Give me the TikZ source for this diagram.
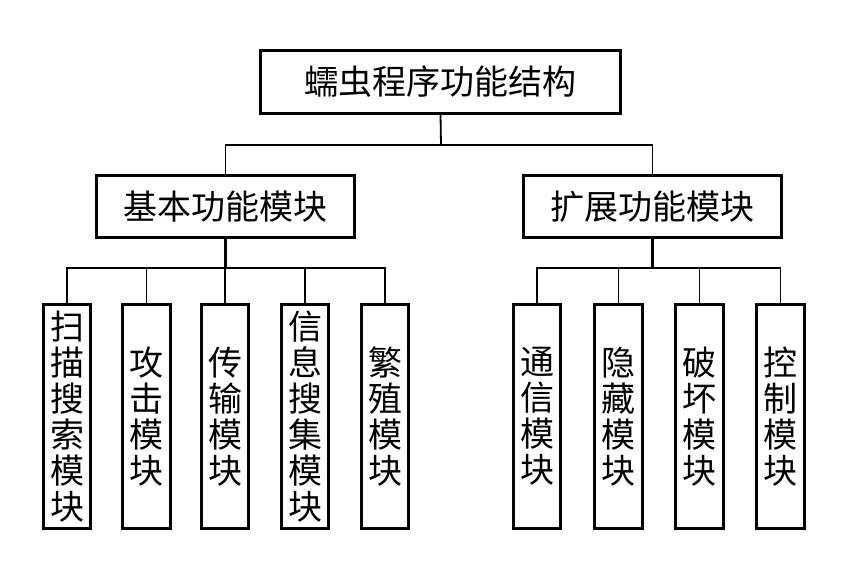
\documentclass[tikz,border=0pt]{standalone}
\usepackage{fontspec}
\newfontfamily\cjk{Noto Sans CJK SC}

\begin{document}
\begin{tikzpicture}[x=1pt,y=-1pt,
    box/.style={draw,line width=2.6pt,inner sep=0pt,font=\cjk\fontsize{34}{36}\selectfont},
    topbox/.style={box,minimum width=360pt,minimum height=63pt},
    midbox/.style={box,minimum width=258pt,minimum height=62pt},
    leafbox/.style={box,align=center,minimum width=47.5pt,minimum height=224.5pt},
    link/.style={line width=1.8pt}]
    % canvas
    \fill[white] (0,0) rectangle (848,560);

    % top and middle
    \node[topbox] (root) at (440.5,82) {蠕虫程序功能结构};
    \node[midbox] (basic) at (225.5,206.5) {基本功能模块};
    \node[midbox] (ext) at (652.5,206.5) {扩展功能模块};

    % basic modules
    \node[leafbox] (scan) at (67,416.5) {扫\\描\\搜\\索\\模\\块};
    \node[leafbox] (attack) at (146.5,416.5) {攻\\击\\模\\块};
    \node[leafbox] (trans) at (225,416.5) {传\\输\\模\\块};
    \node[leafbox] (info) at (305,416.5) {信\\息\\搜\\集\\模\\块};
    \node[leafbox] (breed) at (385,416.5) {繁\\殖\\模\\块};

    % extended modules
    \node[leafbox] (comm) at (537,416.5) {通\\信\\模\\块};
    \node[leafbox] (hide) at (618.5,416.5) {隐\\藏\\模\\块};
    \node[leafbox] (harm) at (699.5,416.5) {破\\坏\\模\\块};
    \node[leafbox] (ctrl) at (780.5,416.5) {控\\制\\模\\块};

    % connectors
    \coordinate (rj) at (441,145);
    \draw[link] (root.south) -- (rj);
    \draw[link] (basic.north) |- (rj) -| (ext.north);
    \draw[link,line width=2.6pt] (basic.south) -- ++(0,29) coordinate (bj);
    \foreach \n in {scan,attack,trans,info,breed}
        \draw[link] (bj) -| (\n.north);
    \draw[link,line width=2.6pt] (ext.south) -- ++(0,29) coordinate (ej);
    \foreach \n in {comm,hide,harm,ctrl}
        \draw[link] (ej) -| (\n.north);
\end{tikzpicture}
\end{document}
